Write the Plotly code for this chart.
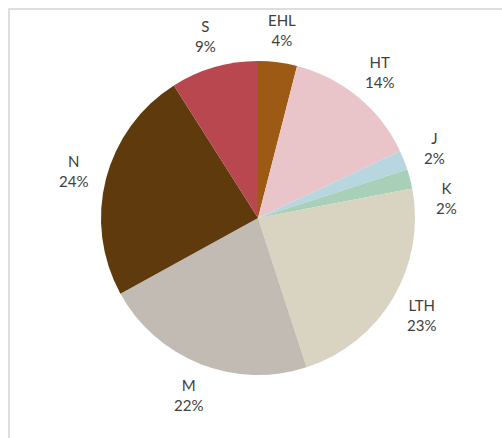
import math
import plotly.graph_objects as go

labels = ["EHL", "HT", "J", "K", "LTH", "M", "N", "S"]
values = [4, 14, 2, 2, 23, 22, 24, 9]
colors = ["#9C5A15", "#E9C5C9", "#B8D6E0", "#A8CFB8", "#D9D3C1", "#C1BBB3", "#5E3A0C", "#B9474F"]

W, H = 502, 438
cx, cy, r = 258, 218, 157
label_r = 1.21 * r      # distance of label centres from pie centre
box_h, box_w, gap = 40, 32, 10
font = dict(family="Lato", size=15, color="#404040")

fig = go.Figure(go.Pie(
    labels=labels, values=values, sort=False, direction="clockwise", rotation=0,
    marker=dict(colors=colors, line=dict(width=0)),
    textinfo="none",
    domain=dict(x=[(cx - r) / W, (cx + r) / W], y=[1 - (cy + r) / H, 1 - (cy - r) / H]),
    showlegend=False, hoverinfo="skip",
))

# label positions from slice mid-angles; rotate a label clockwise if it collides
total = sum(values)
placed = []
cum = 0
for lab, v in zip(labels, values):
    ang = (cum + v / 2) / total * 360
    cum += v
    while True:
        px = cx + label_r * math.sin(math.radians(ang))
        py = cy - label_r * math.cos(math.radians(ang))
        hit = any(abs(px - qx) < box_w and abs(py - qy) < box_h + gap for qx, qy, _, _ in placed)
        if not hit:
            break
        ang += 0.5
    placed.append((px, py, lab, v))

for px, py, lab, v in placed:
    fig.add_annotation(x=px / W, y=1 - py / H, xref="paper", yref="paper",
                       text=f"{lab}<br>{round(100 * v / total)}%", showarrow=False,
                       font=font, xanchor="center", yanchor="middle", align="center")

fig.add_shape(type="rect", xref="paper", yref="paper",
              x0=9 / W, x1=1.2, y0=-0.2, y1=1 - 9 / H,
              line=dict(color="#D4D4D4", width=1.5), fillcolor="rgba(0,0,0,0)", layer="below")

fig.update_layout(width=W, height=H, margin=dict(l=0, r=0, t=0, b=0),
                  paper_bgcolor="white", plot_bgcolor="white")
fig.write_html("out.html", config={"displayModeBar": False},
               post_script="document.body.style.margin='0';")
